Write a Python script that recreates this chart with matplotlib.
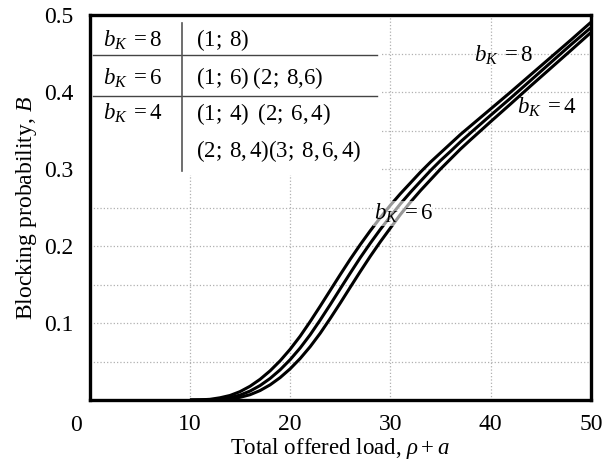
import numpy as np
import matplotlib
matplotlib.use('Agg')
import matplotlib.pyplot as plt
from matplotlib.patches import Rectangle

plt.rcParams['font.family'] = ['Liberation Serif', 'DejaVu Serif']
plt.rcParams['mathtext.fontset'] = 'custom'
plt.rcParams['mathtext.rm'] = 'Liberation Serif'
plt.rcParams['mathtext.it'] = 'Liberation Serif:italic'

# offered load (x) and blocking probability for each b_K
load = [10, 11, 12, 13, 14, 15, 16, 17, 18, 19, 20, 21, 22, 23, 24, 25, 26, 27, 28,
        29, 30, 31, 32, 33, 34, 35, 36, 37, 38, 40, 42, 44, 46, 48, 50]
B_bk8 = [0.0, 0.0003, 0.001, 0.003, 0.006, 0.011, 0.018, 0.027, 0.038, 0.051, 0.066,
         0.083, 0.102, 0.122, 0.1425, 0.163, 0.183, 0.202, 0.220, 0.237, 0.253, 0.268,
         0.282, 0.296, 0.309, 0.321, 0.333, 0.345, 0.356, 0.378, 0.400, 0.4225, 0.445,
         0.4675, 0.4905]
B_bk6 = [0.0, 0.0001, 0.0003, 0.0012, 0.0033, 0.0065, 0.0117, 0.0189, 0.0281, 0.0393,
         0.0525, 0.0677, 0.0849, 0.104, 0.124, 0.1446, 0.165, 0.185, 0.2038, 0.2217,
         0.2386, 0.2548, 0.2698, 0.284, 0.298, 0.311, 0.323, 0.3354, 0.347, 0.3698,
         0.3922, 0.4152, 0.4383, 0.4613, 0.4836]
B_bk4 = [0.0, 0.0, 0.0001, 0.0004, 0.0014, 0.0036, 0.007, 0.0124, 0.0198, 0.0292,
         0.0406, 0.054, 0.0694, 0.0868, 0.106, 0.126, 0.1466, 0.167, 0.1868, 0.2056,
         0.2234, 0.241, 0.257, 0.272, 0.286, 0.300, 0.313, 0.326, 0.338, 0.3615,
         0.3846, 0.408, 0.431, 0.454, 0.4772]

xticks = [0, 10, 20, 30, 40, 50]
yticks = [0.1, 0.2, 0.3, 0.4, 0.5]

table_rows = [
    (r'$b_K\;=8$', [r'$(1;\;8)$']),
    (r'$b_K\;=6$', [r'$(1;\;6)\;(2;\;8{,}6)$']),
    (r'$b_K\;=4$', [r'$(1;\;4)\;\;(2;\;6{,}\,4)$', r'$(2;\;8{,}\,4)(3;\;8{,}\,6{,}\,4)$']),
]

fig = plt.figure(figsize=(6.06, 4.62), dpi=100)
ax = fig.add_axes([0.148, 0.134, 0.827, 0.8335])

ax.set_xlim(0, 50)
ax.set_ylim(0, 0.5)

for v in [10, 20, 30, 40]:
    ax.axvline(v, color='#b0b0b0', ls=':', lw=0.9, zorder=0)
for v in np.arange(0.05, 0.5, 0.05):
    ax.axhline(v, color='#b0b0b0', ls=':', lw=0.9, zorder=0)

for B in [B_bk8, B_bk6, B_bk4]:
    ax.plot(load, B, color='black', lw=2.2, zorder=3, solid_capstyle='butt')

ax.set_xticks(xticks)
ax.set_xticklabels([''] + [str(t) for t in xticks[1:]])
ax.set_yticks(yticks)
ax.set_yticklabels(['%.1f' % t for t in yticks])
ax.tick_params(axis='y', length=0, labelsize=17, pad=12)
ax.tick_params(axis='x', length=0, labelsize=17, pad=10)
ax.text(-1.4, -0.019, '0', fontsize=17, ha='center', va='top')

for s in ax.spines.values():
    s.set_linewidth(2.4)
    s.set_zorder(5)

ax.set_xlabel(r'Total offered load, $\rho + a$', fontsize=16.5, labelpad=0.5)
ax.set_ylabel(r'Blocking probability, $B$', fontsize=17, labelpad=3)

# table in the upper left corner
ax.add_patch(Rectangle((0, 0.292), 29.0, 0.208, facecolor='white', edgecolor='none', zorder=1))
ax.plot([0.3, 28.7], [0.448, 0.448], color='#444444', lw=1.0, zorder=2)
ax.plot([0.3, 28.7], [0.395, 0.395], color='#444444', lw=1.0, zorder=2)
ax.plot([9.2, 9.2], [0.298, 0.49], color='#555555', lw=1.2, zorder=2)

row_y = [0.467, 0.418, 0.372]
for (lab, vals), y in zip(table_rows, row_y):
    ax.text(1.3, y, lab, fontsize=16.5, va='center', ha='left', zorder=4)
    for i, v in enumerate(vals):
        ax.text(10.6, y - i * 0.049, v, fontsize=16.5, va='center', ha='left', zorder=4)

# labels on curves
ax.text(41.3, 0.448, r'$b_K\;=8$', fontsize=16.5, ha='center', va='center', zorder=4)
ax.text(45.6, 0.380, r'$b_K\;=4$', fontsize=16.5, ha='center', va='center', zorder=4)
ax.text(31.3, 0.242, r'$b_K\;=6$', fontsize=16.5, ha='center', va='center', zorder=4,
        bbox=dict(facecolor='white', edgecolor='none', alpha=0.6, pad=0.5))

fig.savefig('out.png', dpi=100)
